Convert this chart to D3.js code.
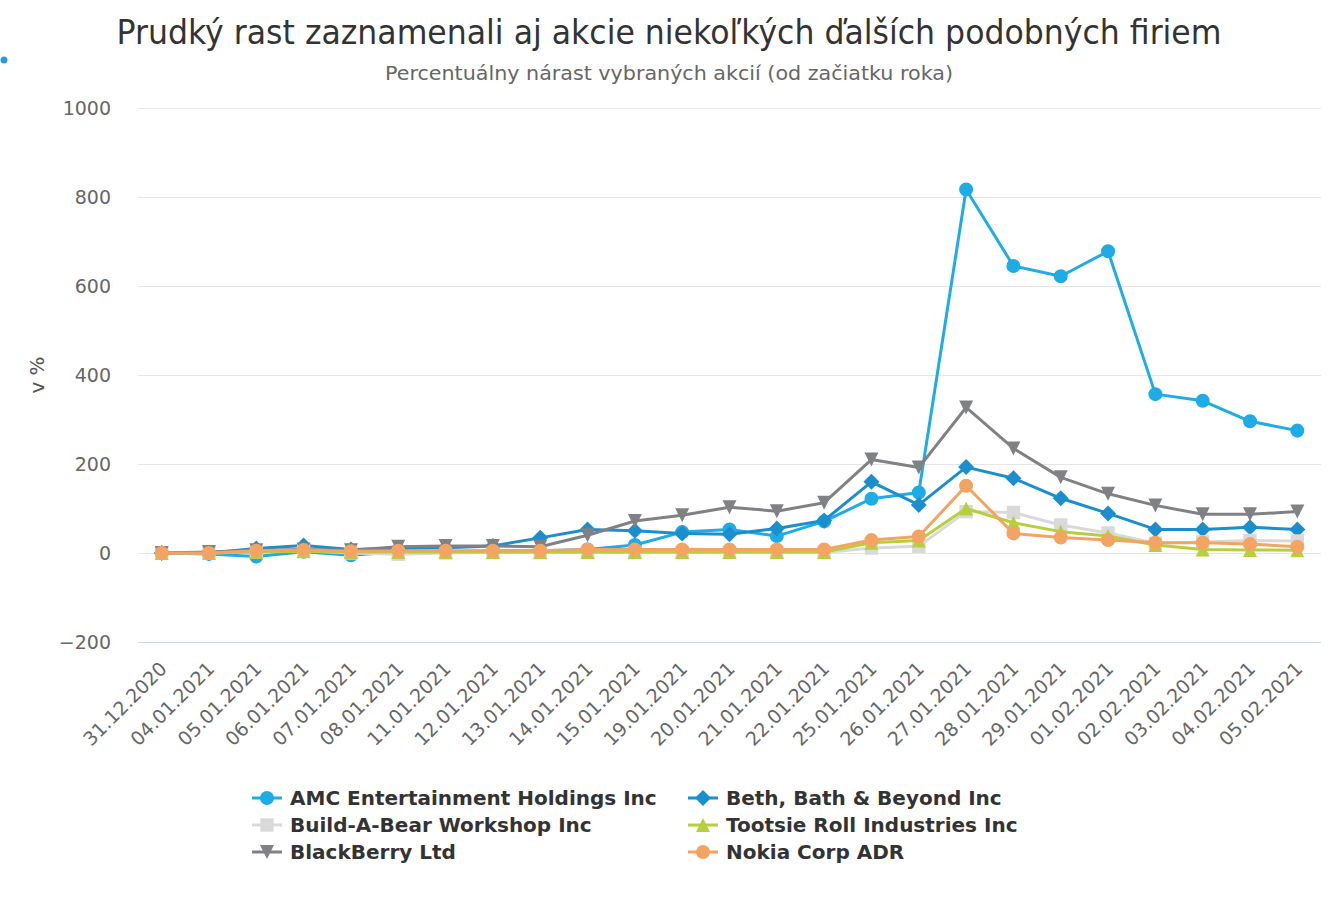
<!DOCTYPE html>
<html>
<head>
<meta charset="utf-8">
<style>
    body { margin: 0; background: #fff; }
    svg text { font-family: "DejaVu Sans", sans-serif; }
    .grid line { stroke: #e6e6e6; stroke-width: 1; }
</style>
</head>
<body>
<svg id="chart"></svg>
<script src="https://cdn.jsdelivr.net/npm/d3@7"></script>
<script>
    let width = 1338,
        height = 900;

    // dates on the x axis
    let dates = ["31.12.2020", "04.01.2021", "05.01.2021", "06.01.2021", "07.01.2021",
        "08.01.2021", "11.01.2021", "12.01.2021", "13.01.2021", "14.01.2021",
        "15.01.2021", "19.01.2021", "20.01.2021", "21.01.2021", "22.01.2021",
        "25.01.2021", "26.01.2021", "27.01.2021", "28.01.2021", "29.01.2021",
        "01.02.2021", "02.02.2021", "03.02.2021", "04.02.2021", "05.02.2021"]

    let yTicks = [-200, 0, 200, 400, 600, 800, 1000]

    // percent change since start of year
    let amc = [0, -2, -8, 3, -5, 3, 3, 5, 5, 8, 18, 47, 53, 38, 71, 122, 136, 817, 645, 622, 678, 357, 342, 296, 275]
    let bbby = [0, 0, 10, 17, 8, 10, 12, 16, 34, 53, 50, 44, 42, 55, 73, 160, 108, 193, 168, 123, 89, 53, 53, 58, 53]
    let bab = [0, 0, 3, 5, 0, -3, 0, 1, 1, 1, 1, 1, 1, 1, 1, 11, 15, 93, 91, 63, 45, 22, 25, 28, 27]
    let tootsie = [0, 0, 2, 4, 2, 2, 2, 2, 2, 2, 2, 2, 2, 2, 2, 23, 28, 100, 68, 48, 38, 18, 8, 7, 6]
    let blackberry = [0, 2, 6, 8, 6, 14, 16, 16, 14, 40, 72, 85, 103, 94, 113, 210, 192, 327, 235, 170, 133, 107, 87, 87, 93]
    let nokia = [0, 0, 5, 7, 4, 5, 5, 5, 5, 8, 8, 8, 8, 8, 8, 29, 37, 151, 44, 35, 29, 23, 23, 20, 14]

    let seriesNames = ["AMC Entertainment Holdings Inc", "Beth, Bath & Beyond Inc", "Build-A-Bear Workshop Inc",
        "Tootsie Roll Industries Inc", "BlackBerry Ltd", "Nokia Corp ADR"]
    let seriesValues = [amc, bbby, bab, tootsie, blackberry, nokia]
    let seriesColors = ["#1eace6", "#1b8ecd", "#d9d9d9", "#b7cf3c", "#808184", "#f3a462"]
    let seriesSymbols = ["circle", "diamond", "square", "triangle", "triangle-down", "circle"]

    let margin = { left: 138, right: 1321, top: 108, bottom: 642 }

    let svg = d3.select("#chart").attr("width", width).attr("height", height)

    let x = d3.scalePoint().domain(dates).range([margin.left, margin.right]).padding(0.5)
    let y = d3.scaleLinear().domain([-200, 1000]).range([margin.bottom, margin.top])

    // tiny dot top-left
    svg.append("circle").attr("cx", 4).attr("cy", 60).attr("r", 3.5).attr("fill", "#2b9ad8")

    // title
    let title = svg.append("text")
        .attr("x", width / 2).attr("y", 44)
        .attr("text-anchor", "middle")
        .attr("font-size", 34)
        .attr("fill", "#333")
        .text("Prudký rast zaznamenali aj akcie niekoľkých ďalších podobných firiem")
        .attr("textLength", 1105).attr("lengthAdjust", "spacingAndGlyphs")

    let sub = svg.append("text")
        .attr("x", width / 2).attr("y", 80)
        .attr("text-anchor", "middle")
        .attr("font-size", 20)
        .attr("fill", "#666")
        .text("Percentuálny nárast vybraných akcií (od začiatku roka)")
        .attr("textLength", 568).attr("lengthAdjust", "spacingAndGlyphs")

    // grid
    svg.append("g").attr("class", "grid")
        .selectAll("line")
        .data(yTicks.filter(d => d != -200))
        .enter().append("line")
        .attr("x1", margin.left).attr("x2", margin.right)
        .attr("y1", d => y(d) + 0.5).attr("y2", d => y(d) + 0.5)

    // y axis labels
    let yAxis = svg.append("g")
        .attr("transform", `translate(${margin.left},0)`)
        .call(d3.axisLeft(y).tickValues(yTicks).tickSize(0).tickPadding(27).tickFormat(d => d < 0 ? "−" + Math.abs(d) : d))
    yAxis.select(".domain").remove()
    yAxis.selectAll("text").attr("font-size", 19).attr("fill", "#666").attr("font-family", "DejaVu Sans")

    svg.append("text")
        .attr("transform", "translate(44,375) rotate(-90)")
        .attr("text-anchor", "middle")
        .attr("font-size", 20)
        .attr("fill", "#555")
        .text("v %")

    // x axis
    let xAxis = svg.append("g")
        .attr("transform", `translate(0,${margin.bottom})`)
        .call(d3.axisBottom(x).tickSize(0).tickPadding(0))
    xAxis.select(".domain").attr("stroke", "#ccd6eb").attr("stroke-width", 1).attr("d", `M${margin.left},0.5H${margin.right}`)
    xAxis.selectAll(".tick text")
        .attr("font-size", 19).attr("fill", "#666").attr("font-family", "DejaVu Sans")
        .attr("text-anchor", "end")
        .attr("dy", null).attr("y", 0)
        .attr("transform", "translate(6,28) rotate(-45)")

    // series
    let line = d3.line().x((d, i) => x(dates[i])).y(d => y(d))

    function symbolPath(kind) {
        if (kind == "circle") return d3.symbol(d3.symbolCircle, 154)()
        if (kind == "diamond") return "M0,-8L8,0L0,8L-8,0Z"
        if (kind == "square") return d3.symbol(d3.symbolSquare, 180)()
        if (kind == "triangle") return "M0,-7L7,7L-7,7Z"
        if (kind == "triangle-down") return "M-7,-7L7,-7L0,7Z"
    }

    let series = svg.append("g").selectAll("g")
        .data(seriesValues)
        .enter().append("g")

    series.append("path")
        .attr("d", d => line(d))
        .attr("fill", "none")
        .attr("stroke", (d, i) => seriesColors[i])
        .attr("stroke-width", 3)
        .attr("stroke-linejoin", "round")

    series.each(function (vals, si) {
        d3.select(this).selectAll(".pt")
            .data(vals)
            .enter().append("path")
            .attr("class", "pt")
            .attr("d", symbolPath(seriesSymbols[si]))
            .attr("transform", (d, i) => `translate(${x(dates[i])},${y(d)})`)
            .attr("fill", seriesColors[si])
    })

    // legend
    let legendCols = [252, 688]
    let legendRows = [798, 825, 852]
    let legend = svg.append("g").selectAll("g")
        .data(seriesNames)
        .enter().append("g")
        .attr("transform", (d, i) => `translate(${legendCols[i % 2]},${legendRows[Math.floor(i / 2)]})`)

    legend.append("line")
        .attr("x1", 0).attr("x2", 30)
        .attr("stroke", (d, i) => seriesColors[i])
        .attr("stroke-width", 3)
    legend.append("path")
        .attr("d", (d, i) => symbolPath(seriesSymbols[i]))
        .attr("transform", "translate(15,0)")
        .attr("fill", (d, i) => seriesColors[i])
    legend.append("text")
        .attr("x", 38).attr("y", 0)
        .attr("dy", "0.36em")
        .attr("font-size", 20)
        .attr("font-weight", "bold")
        .attr("fill", "#333")
        .text(d => d)
</script>
</body>
</html>
